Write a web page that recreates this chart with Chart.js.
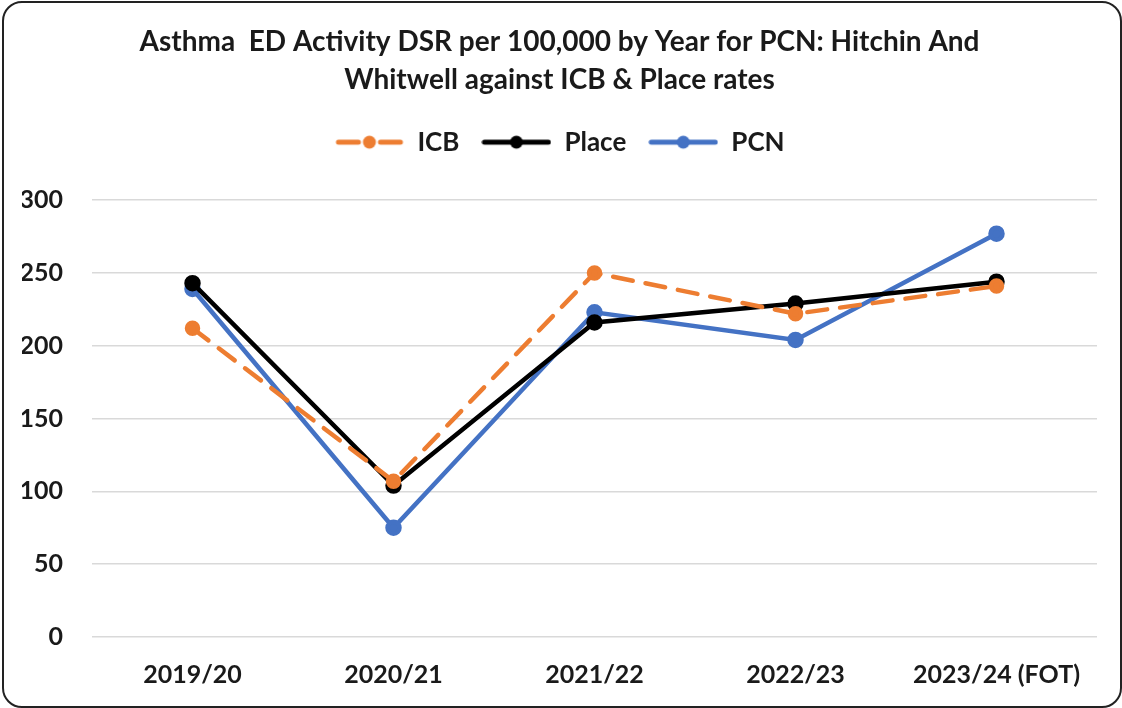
<!DOCTYPE html>
<html>
<head>
<meta charset="utf-8">
<script src="https://cdn.jsdelivr.net/npm/chart.js@4"></script>
<style>
  html, body { margin: 0; padding: 0; background: #fff; }
  #box { position: absolute; left: 2px; top: 1px; width: 1116px; height: 703px; border: 2px solid #222; border-radius: 20px; overflow: hidden; }
  canvas { display: block; }
</style>
</head>
<body>
<div id="box"><canvas id="grafico" width="1116" height="703"></canvas></div>
<script>
var years = ["2019/20", "2020/21", "2021/22", "2022/23", "2023/24 (FOT)"];
var icb = [212, 107, 250, 222, 241];
var place = [243, 104, 216, 229, 244];
var pcn = [239, 75, 223, 204, 277];
var yTicks = [0, 50, 100, 150, 200, 250, 300];

// legend marker: line with a dot in the middle
function marca(color, dashed) {
	var c = document.createElement('canvas');
	c.width = 70; c.height = 20;
	var g = c.getContext('2d');
	g.strokeStyle = color; g.fillStyle = color;
	g.lineWidth = 5; g.lineCap = 'round';
	if (dashed) {
		g.beginPath(); g.moveTo(4, 10); g.lineTo(24, 10); g.stroke();
		g.beginPath(); g.moveTo(46, 10); g.lineTo(66, 10); g.stroke();
	} else {
		g.beginPath(); g.moveTo(3, 10); g.lineTo(67, 10); g.stroke();
	}
	g.beginPath(); g.arc(35, 10, 6.5, 0, Math.PI * 2); g.fill();
	return c;
}

// extra room under the legend
var espacioLeyenda = {
	id: 'espacioLeyenda',
	afterInit: function (ch) {
		var l = ch.legend;
		var f = l.fit;
		l.fit = function () { f.call(l); l.height += 35; };
	}
};

var fuente = 'Lato, "Open Sans", sans-serif';
var texto = '#1a1a1a';
var ctx = document.getElementById('grafico').getContext('2d');
var chart = new Chart(ctx, {
	type: 'line',
	data: {
		labels: years,
		datasets: [{
			label: 'ICB',
			data: icb,
			borderColor: '#ED7D31',
			backgroundColor: '#ED7D31',
			borderWidth: 4.5,
			borderDash: [20, 13],
			borderCapStyle: 'round',
			pointRadius: 5.5,
			pointHoverRadius: 5.5,
			legendMark: marca('#ED7D31', true)
		}, {
			label: 'Place',
			data: place,
			borderColor: '#000000',
			backgroundColor: '#000000',
			borderWidth: 4.5,
			pointRadius: 6,
			pointHoverRadius: 6,
			legendMark: marca('#000000', false)
		}, {
			label: 'PCN',
			data: pcn,
			borderColor: '#4472C4',
			backgroundColor: '#4472C4',
			borderWidth: 4.5,
			pointRadius: 6,
			pointHoverRadius: 6,
			legendMark: marca('#4472C4', false)
		}]
	},
	plugins: [espacioLeyenda],
	options: {
		responsive: false,
		animation: false,
		layout: { padding: { left: 18, right: 23, top: 0, bottom: 9 } },
		plugins: {
			title: {
				display: true,
				text: ['Asthma  ED Activity DSR per 100,000 by Year for PCN: Hitchin And', 'Whitwell against ICB & Place rates'],
				color: texto,
				font: { family: fuente, size: 28, weight: 'bold', lineHeight: 1.36 },
				padding: { top: 20, bottom: 8 }
			},
			legend: {
				position: 'top',
				labels: {
					usePointStyle: true,
					pointStyleWidth: 70,
					color: texto,
					font: { family: fuente, size: 26, weight: 'bold' },
					padding: 22,
					generateLabels: function (ch) {
						return ch.data.datasets.map(function (d, i) {
							return { text: d.label, pointStyle: d.legendMark, datasetIndex: i, fontColor: texto, lineWidth: 0, strokeStyle: 'transparent', fillStyle: 'transparent' };
						});
					}
				}
			},
			tooltip: { enabled: false }
		},
		scales: {
			x: {
				offset: true,
				grid: { display: false, drawTicks: false },
				border: { display: false },
				ticks: { color: texto, font: { family: fuente, size: 25, weight: 'bold' }, padding: 23, maxRotation: 0 },
				afterFit: function (s) { s.height = 60; }
			},
			y: {
				min: 0,
				max: 300,
				afterBuildTicks: function (ax) { ax.ticks = yTicks.map(function (v) { return { value: v }; }); },
				grid: { color: '#d9d9d9', lineWidth: 1.5, drawTicks: false },
				border: { display: false },
				ticks: { color: texto, font: { family: fuente, size: 25, weight: 'bold' }, padding: 29 },
				afterFit: function (s) { s.width = 70; }
			}
		}
	}
});
</script>
</body>
</html>
